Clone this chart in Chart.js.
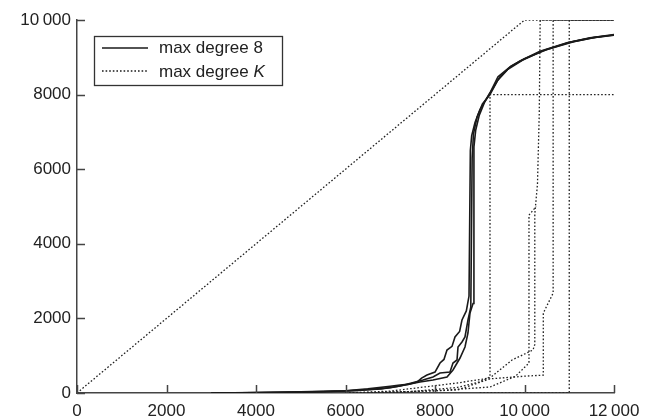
<!DOCTYPE html>
<html>
<head>
<meta charset="utf-8">
<script src="https://cdn.jsdelivr.net/npm/chart.js@4.4.1/dist/chart.umd.min.js"></script>
<style>
  html, body { margin: 0; padding: 0; background: #fff; }
  #wrap { width: 656px; height: 417px; }
</style>
</head>
<body>
<div id="wrap"><canvas id="myChart" width="656" height="417"></canvas></div>
<script>
const ctx = document.getElementById('myChart');

// Axis ticks
const xTicks = [0, 2000, 4000, 6000, 8000, 10000, 12000];
const yTicks = [0, 2000, 4000, 6000, 8000, 10000];

// Solid runs: max degree 8
const runA_x = [3000, 4000, 5000, 6000, 6500, 7000, 7218, 7400, 7598, 7700, 7821, 8000, 8112, 8200, 8268, 8380, 8447, 8550, 8603, 8700, 8760, 8790, 8820, 8894, 9006, 9229, 9408, 9676, 9899, 10346, 10950, 11464, 12000];
const runA_y = [0, 10, 30, 60, 110, 180, 214, 230, 295, 400, 483, 560, 804, 900, 1153, 1250, 1501, 1650, 1957, 2200, 2600, 6500, 6900, 7250, 7600, 8050, 8480, 8740, 8900, 9160, 9390, 9520, 9600];
const runB_x = [3000, 4500, 5500, 6300, 7000, 7218, 7732, 7955, 8112, 8335, 8402, 8492, 8514, 8603, 8670, 8737, 8800, 8830, 8860, 8940, 9060, 9229, 9400, 9620, 9950, 10400, 11000, 11500, 12000];
const runB_y = [0, 15, 35, 70, 140, 188, 349, 429, 536, 563, 804, 885, 1233, 1367, 1501, 1957, 2300, 6300, 6950, 7400, 7750, 8000, 8380, 8670, 8920, 9170, 9400, 9520, 9590];
const runC_x = [3200, 5000, 6000, 6800, 7218, 7665, 7955, 8268, 8402, 8559, 8670, 8737, 8782, 8850, 8870, 8910, 8990, 9110, 9260, 9450, 9700, 10000, 10500, 11100, 11600, 12000];
const runC_y = [0, 25, 55, 110, 188, 295, 349, 429, 617, 938, 1233, 1609, 2145, 2400, 6600, 7050, 7450, 7800, 8100, 8480, 8760, 8960, 9210, 9420, 9540, 9610];

// Dotted runs: max degree K
const diag_x = [0, 10000, 12000];
const diag_y = [0, 10000, 10000];
const dotA_x = [6000, 7500, 8500, 9000, 9229, 9229, 12000];
const dotA_y = [0, 40, 150, 300, 430, 8000, 8000];
const dotB_x = [6000, 7000, 8492, 9229, 9720, 10190, 10230, 10230, 10290, 10330, 10350, 12000];
const dotB_y = [0, 50, 268, 402, 885, 1153, 1300, 4800, 5600, 7500, 10000, 10000];
const dotC_x = [6500, 8000, 9229, 9800, 10100, 10100, 10260];
const dotC_y = [0, 60, 160, 450, 804, 4770, 5000];
const dotD_x = [6500, 8500, 9229, 10000, 10420, 10420, 10640, 10640, 12000];
const dotD_y = [0, 80, 380, 450, 480, 2140, 2680, 10000, 10000];
const dotE_x = [9000, 11000, 11000, 12000];
const dotE_y = [0, 0, 10000, 10000];

const pts = (xs, ys) => xs.map((x, i) => ({ x: x, y: ys[i] }));

const solid = (xs, ys) => ({
    data: pts(xs, ys),
    borderColor: '#1a1a1a',
    borderWidth: 1.6,
    pointRadius: 0,
    showLine: true,
    fill: false
});
const dotted = (xs, ys) => ({
    data: pts(xs, ys),
    borderColor: '#222',
    borderWidth: 1.3,
    borderDash: [1.6, 2],
    pointRadius: 0,
    showLine: true,
    fill: false
});

const fmt = v => v >= 10000 ? (v / 1000) + '\u2009000' : String(v);

// inward ticks, like the original plot
const innerTicks = {
    id: 'innerTicks',
    afterDraw(chart) {
        const c = chart.ctx, a = chart.chartArea;
        const xs = chart.scales.x, ys = chart.scales.y;
        c.save();
        c.strokeStyle = '#444';
        c.lineWidth = 1.5;
        c.beginPath();
        xTicks.forEach(v => {
            const px = Math.round(xs.getPixelForValue(v)) + 0.5;
            c.moveTo(px, a.bottom);
            c.lineTo(px, a.bottom - 8);
        });
        yTicks.forEach(v => {
            const py = Math.round(ys.getPixelForValue(v)) + 0.5;
            c.moveTo(a.left, py);
            c.lineTo(a.left + 8, py);
        });
        c.stroke();
        c.restore();
    }
};

// legend box with italic K
const boxLegend = {
    id: 'boxLegend',
    afterDraw(chart) {
        const c = chart.ctx;
        const bx = 94, by = 36, bw = 188, bh = 49;
        c.save();
        c.fillStyle = '#fff';
        c.fillRect(bx, by, bw, bh);
        c.strokeStyle = '#333';
        c.lineWidth = 1.3;
        c.strokeRect(bx + 0.5, by + 0.5, bw, bh);
        c.strokeStyle = '#1a1a1a';
        c.lineWidth = 1.6;
        c.beginPath();
        c.moveTo(102, 48); c.lineTo(148, 48);
        c.stroke();
        c.setLineDash([1.6, 2]);
        c.lineWidth = 1.3;
        c.beginPath();
        c.moveTo(102, 71); c.lineTo(148, 71);
        c.stroke();
        c.fillStyle = '#222';
        c.textBaseline = 'middle';
        c.font = '17px "Liberation Sans", Arial, sans-serif';
        c.fillText('max degree 8', 159, 48);
        const t = 'max degree ';
        c.fillText(t, 159, 72);
        const w = c.measureText(t).width;
        c.font = 'italic 17px "Liberation Sans", Arial, sans-serif';
        c.fillText('K', 159 + w, 72);
        c.restore();
    }
};

new Chart(ctx, {
    type: 'scatter',
    data: {
        datasets: [
            dotted(diag_x, diag_y),
            dotted(dotA_x, dotA_y),
            dotted(dotB_x, dotB_y),
            dotted(dotC_x, dotC_y),
            dotted(dotD_x, dotD_y),
            dotted(dotE_x, dotE_y),
            solid(runA_x, runA_y),
            solid(runB_x, runB_y),
            solid(runC_x, runC_y)
        ]
    },
    options: {
        responsive: false,
        animation: false,
        layout: { padding: { left: 0, right: 42, top: 20, bottom: 0 } },
        plugins: {
            legend: { display: false },
            tooltip: { enabled: false }
        },
        scales: {
            x: {
                type: 'linear',
                min: 0,
                max: 12000,
                afterBuildTicks: s => { s.ticks = xTicks.map(v => ({ value: v })); },
                afterFit: s => { s.height = 24; },
                grid: { display: false, drawTicks: false },
                border: { display: true, color: '#444', width: 1.5 },
                ticks: {
                    padding: 8,
                    color: '#222',
                    font: { family: '"Liberation Sans", Arial, sans-serif', size: 17 },
                    maxRotation: 0,
                    callback: v => fmt(v)
                }
            },
            y: {
                type: 'linear',
                min: 0,
                max: 10000,
                afterBuildTicks: s => { s.ticks = yTicks.map(v => ({ value: v })); },
                afterFit: s => { s.width = 77; },
                grid: { display: false, drawTicks: false },
                border: { display: true, color: '#444', width: 1.5 },
                ticks: {
                    padding: 6,
                    color: '#222',
                    font: { family: '"Liberation Sans", Arial, sans-serif', size: 17 },
                    callback: v => fmt(v)
                }
            }
        }
    },
    plugins: [innerTicks, boxLegend]
});
</script>
</body>
</html>
